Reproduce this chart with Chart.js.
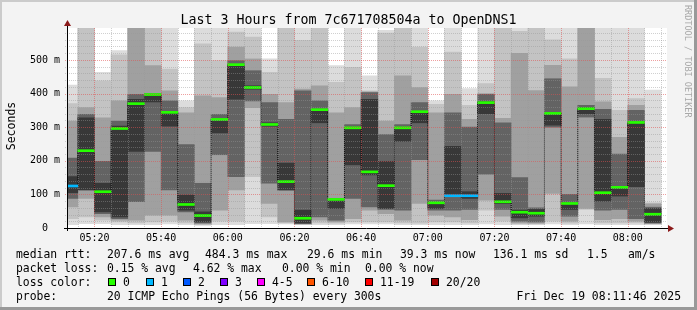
<!DOCTYPE html>
<html>
<head>
<meta charset="utf-8">
<script src="https://cdn.jsdelivr.net/npm/chart.js@4.4.1/dist/chart.umd.min.js"></script>
<style>
  html, body { margin: 0; padding: 0; background: #f3f3f3; }
  canvas { display: block; }
</style>
</head>
<body>
<canvas id="chart" width="697" height="310"></canvas>
<script>
// 5 minute samples, labelled by the end of each step
const sampleEnds = ['05:15','05:20','05:25','05:30','05:35','05:40','05:45','05:50','05:55','06:00',
  '06:05','06:10','06:15','06:20','06:25','06:30','06:35','06:40','06:45','06:50','06:55','07:00',
  '07:05','07:10','07:15','07:20','07:25','07:30','07:35','07:40','07:45','07:50','07:55','08:00',
  '08:05','08:10'];

// median rtt per sample (ms)
const medians = [125, 230, 108, 296, 370, 397, 344, 70, 37, 323, 486, 418, 308, 138, 29, 352, 85, 298,
  167, 126, 298, 346, 75, 96, 96, 373, 78, 47, 44, 341, 73, 355, 105, 121, 314, 41];

// lost pings per sample (of 20)
const lossCounts = [1, 0, 0, 0, 0, 0, 0, 0, 0, 0, 0, 0, 0, 0, 0, 0, 0, 0,
  0, 0, 0, 0, 0, 1, 1, 0, 0, 0, 0, 0, 0, 0, 0, 0, 0, 0];

// sorted ping times per sample (ms)
const smoke = [
  [10, 28, 63, 88, 105, 153, 208, 318, 370, 425],
  [13, 33, 88, 113, 113, 328, 338, 358, 610, 650],
  [13, 23, 33, 43, 48, 133, 198, 328, 438, 463],
  [10, 18, 23, 28, 33, 303, 318, 378, 515, 528],
  [10, 15, 23, 78, 228, 383, 398, 640, 650, 660],
  [10, 18, 38, 228, 375, 397, 400, 483, 640, 650],
  [12, 20, 38, 113, 303, 345, 378, 408, 473, 640],
  [10, 15, 23, 48, 53, 98, 248, 343, 358, 378],
  [8, 10, 12, 15, 18, 48, 133, 393, 548, 650],
  [10, 20, 53, 218, 283, 323, 338, 388, 498, 640],
  [10, 20, 113, 153, 383, 486, 498, 538, 583, 640],
  [13, 153, 358, 378, 413, 423, 468, 503, 568, 640],
  [13, 33, 73, 133, 303, 313, 373, 398, 463, 503],
  [12, 15, 18, 113, 113, 193, 323, 373, 640, 650],
  [10, 11, 12, 13, 15, 53, 408, 413, 558, 650],
  [10, 15, 23, 33, 313, 352, 378, 423, 640, 650],
  [10, 14, 18, 23, 58, 85, 88, 343, 433, 483],
  [12, 18, 28, 88, 188, 298, 308, 358, 478, 640],
  [12, 18, 53, 63, 158, 383, 403, 405, 408, 453],
  [12, 18, 43, 55, 58, 198, 278, 318, 580, 588],
  [10, 15, 23, 53, 258, 298, 308, 453, 640, 650],
  [10, 14, 73, 203, 313, 346, 373, 418, 538, 650],
  [10, 18, 38, 53, 58, 75, 83, 343, 368, 378],
  [10, 18, 33, 53, 93, 243, 343, 398, 523, 650],
  [10, 15, 25, 55, 88, 108, 300, 323, 365, 415],
  [12, 53, 83, 160, 340, 375, 398, 400, 430, 650],
  [10, 20, 35, 55, 73, 103, 313, 326, 640, 650],
  [10, 12, 15, 20, 30, 53, 150, 520, 585, 598],
  [10, 12, 14, 18, 35, 55, 60, 409, 640, 650],
  [12, 20, 103, 300, 306, 343, 444, 484, 560, 650],
  [10, 14, 20, 35, 55, 75, 100, 420, 503, 650],
  [12, 55, 58, 330, 340, 358, 365, 640, 640, 650],
  [10, 15, 25, 53, 80, 323, 353, 375, 445, 650],
  [10, 15, 28, 55, 95, 123, 220, 270, 350, 650],
  [10, 15, 20, 28, 123, 313, 350, 365, 385, 650],
  [10, 12, 13, 15, 17, 58, 62, 72, 75, 410]
];

const yTicks = [0, 100, 200, 300, 400, 500];
const xTickLabels = ['05:20', '05:40', '06:00', '06:20', '06:40', '07:00', '07:20', '07:40', '08:00'];

const lossLegend = ['0', '1', '2', '3', '4-5', '6-10', '11-19', '20/20'];
const lossColors = ['#26ff00', '#00b8ff', '#0059ff', '#7e00ff', '#ff00ff', '#ff5500', '#ff0000', '#a10000'];

const bandColors = ['#dcdcdc', '#c3c3c3', '#a0a0a0', '#636363', '#383838'];
const MONO = 'DejaVu Sans Mono';

function toMin(s) {
  const p = s.split(':').map(Number);
  return p[0] * 60 + p[1] + (p[2] || 0) / 60;
}
function lossColor(n) {
  if (n <= 3) return lossColors[n];
  if (n <= 5) return lossColors[4];
  if (n <= 10) return lossColors[5];
  if (n <= 19) return lossColors[6];
  return lossColors[7];
}
const centers = sampleEnds.map(t => toMin(t) - 2.5);

const datasets = [];
for (let k = 0; k < 5; k++) {
  datasets.push({
    type: 'bar',
    data: smoke.map((q, i) => ({ x: centers[i], y: [q[k], q[9 - k]] })),
    backgroundColor: bandColors[k],
    borderWidth: 0,
    grouped: false,
    barPercentage: 1,
    categoryPercentage: 1,
    clip: 0,
    order: 10 - k
  });
}
datasets.push({
  type: 'line',
  data: medians.map((m, i) => ({ x: centers[i], y: m })),
  stepped: 'middle',
  borderColor: '#000',
  borderWidth: 1,
  borderDash: [1, 1],
  pointRadius: 0,
  clip: 0,
  order: 2
});
datasets.push({
  type: 'bar',
  data: medians.map((m, i) => ({ x: centers[i], y: [m - 3, m + 3] })),
  backgroundColor: lossCounts.map(lossColor),
  borderWidth: 0,
  grouped: false,
  barPercentage: 1,
  categoryPercentage: 1,
  clip: 0,
  order: 1
});

const rrdLook = {
  id: 'rrdLook',
  beforeDraw(chart) {
    const { ctx, chartArea: a } = chart;
    ctx.save();
    ctx.fillStyle = '#f3f3f3';
    ctx.fillRect(0, 0, 697, 310);
    ctx.fillStyle = '#cbcbcb';
    ctx.fillRect(0, 0, 697, 2);
    ctx.fillRect(0, 0, 2, 310);
    ctx.fillStyle = '#999999';
    ctx.fillRect(0, 307, 697, 3);
    ctx.fillRect(694, 0, 3, 310);
    ctx.fillStyle = '#ffffff';
    ctx.fillRect(a.left, a.top, a.right - a.left, a.bottom - a.top);
    ctx.restore();
  },
  afterDatasetsDraw(chart) {
    const { ctx, chartArea: a, scales: { x, y } } = chart;
    ctx.save();
    ctx.lineWidth = 1;
    ctx.setLineDash([1, 1]);
    // horizontal grid: minor 20 m, major 100 m
    for (let v = 20; v < y.max; v += 20) {
      const py = Math.round(y.getPixelForValue(v)) + 0.5;
      ctx.strokeStyle = v % 100 === 0 ? 'rgba(224,80,80,0.55)' : 'rgba(150,150,150,0.45)';
      ctx.beginPath(); ctx.moveTo(a.left - 2, py); ctx.lineTo(a.right, py); ctx.stroke();
    }
    // vertical grid: minor 5 min, major at labelled ticks
    const majors = xTickLabels.map(toMin);
    for (let t = Math.ceil(x.min / 5) * 5; t < x.max; t += 5) {
      const px = Math.round(x.getPixelForValue(t)) + 0.5;
      ctx.strokeStyle = majors.includes(t) ? 'rgba(224,80,80,0.55)' : 'rgba(150,150,150,0.45)';
      ctx.beginPath(); ctx.moveTo(px, a.top); ctx.lineTo(px, a.bottom + 2); ctx.stroke();
    }
    ctx.setLineDash([]);
    // axes
    ctx.strokeStyle = '#000';
    const by = Math.round(y.getPixelForValue(0)) + 0.5;
    const lx = Math.round(a.left) + 0.5;
    ctx.beginPath(); ctx.moveTo(a.left - 3, by); ctx.lineTo(a.right + 2, by); ctx.stroke();
    ctx.beginPath(); ctx.moveTo(lx, a.bottom + 3); ctx.lineTo(lx, a.top - 4); ctx.stroke();
    ctx.fillStyle = '#8b1a1a';
    ctx.beginPath(); ctx.moveTo(a.right + 1, by - 3.5); ctx.lineTo(a.right + 7, by); ctx.lineTo(a.right + 1, by + 3.5); ctx.fill();
    ctx.beginPath(); ctx.moveTo(lx - 3.5, a.top - 2); ctx.lineTo(lx, a.top - 8); ctx.lineTo(lx + 3.5, a.top - 2); ctx.fill();
    ctx.restore();
  },
  afterDraw(chart) {
    const { ctx } = chart;
    ctx.save();
    ctx.fillStyle = '#000';
    ctx.textBaseline = 'alphabetic';
    ctx.font = '13.3px "' + MONO + '"';
    ctx.textAlign = 'center';
    ctx.fillText('Last 3 Hours from 7c671708504a to OpenDNS1', 348.5, 24);

    ctx.font = '11.5px "' + MONO + '"';
    ctx.save();
    ctx.translate(15, 126);
    ctx.rotate(-Math.PI / 2);
    ctx.fillText('Seconds', 0, 0);
    ctx.restore();

    ctx.save();
    ctx.fillStyle = '#a8a8a8';
    ctx.font = '8.5px "' + MONO + '"';
    ctx.textAlign = 'left';
    ctx.translate(685, 5);
    ctx.rotate(Math.PI / 2);
    ctx.fillText('RRDTOOL / TOBI OETIKER', 0, 0);
    ctx.restore();

    ctx.font = '11.4px "' + MONO + '"';
    ctx.textAlign = 'left';
    const rows = [
      [258, [[16, 'median rtt:'], [107, '207.6 ms avg'], [205, '484.3 ms max'], [307, '29.6 ms min'],
             [400, '39.3 ms now'], [493, '136.1 ms sd'], [587, '1.5'], [628, 'am/s']]],
      [272, [[16, 'packet loss:'], [107, '0.15 % avg'], [193, '4.62 % max'], [282, '0.00 % min'], [365, '0.00 % now']]],
      [286, [[16, 'loss color:']]],
      [299.5, [[16, 'probe:'], [107, '20 ICMP Echo Pings (56 Bytes) every 300s']]]
    ];
    rows.forEach(([by, items]) => items.forEach(([x, s]) => ctx.fillText(s, x, by)));

    const sqX = [108, 146, 183, 220, 257, 307, 365, 431];
    lossLegend.forEach((lab, i) => {
      ctx.fillStyle = lossColors[i];
      ctx.fillRect(sqX[i] + 0.5, 278.5, 7, 7);
      ctx.strokeStyle = '#000';
      ctx.lineWidth = 1;
      ctx.strokeRect(sqX[i] + 0.5, 278.5, 7, 7);
      ctx.fillStyle = '#000';
      ctx.fillText(lab, sqX[i] + 15, 286);
    });

    ctx.textAlign = 'right';
    ctx.fillText('Fri Dec 19 08:11:46 2025', 681, 299.5);
    ctx.restore();
  }
};

new Chart(document.getElementById('chart'), {
  type: 'bar',
  data: { datasets },
  options: {
    responsive: false,
    devicePixelRatio: 1,
    animation: false,
    events: [],
    layout: { padding: { left: 0, right: 30, top: 28, bottom: 0 } },
    plugins: { legend: { display: false }, tooltip: { enabled: false }, title: { display: false } },
    scales: {
      x: {
        type: 'linear',
        min: toMin('05:11:46'),
        max: toMin('08:11:46'),
        offset: false,
        grid: { display: false, drawTicks: false },
        border: { display: false },
        ticks: {
          color: '#000',
          font: { family: MONO, size: 10 },
          padding: 4,
          maxRotation: 0,
          autoSkip: false,
          callback: v => xTickLabels.find(t => toMin(t) === v) || ''
        },
        afterBuildTicks: s => { s.ticks = xTickLabels.map(t => ({ value: toMin(t) })); },
        afterFit: s => { s.height = 82; }
      },
      y: {
        min: 0,
        max: 595,
        grid: { display: false, drawTicks: false },
        border: { display: false },
        ticks: {
          color: '#000',
          font: { family: MONO, size: 10 },
          padding: 7,
          callback: v => (v === 0 ? '0  ' : v + ' m')
        },
        afterBuildTicks: s => { s.ticks = yTicks.map(v => ({ value: v })); },
        afterFit: s => { s.width = 67; }
      }
    }
  },
  plugins: [rrdLook]
});
</script>
</body>
</html>
